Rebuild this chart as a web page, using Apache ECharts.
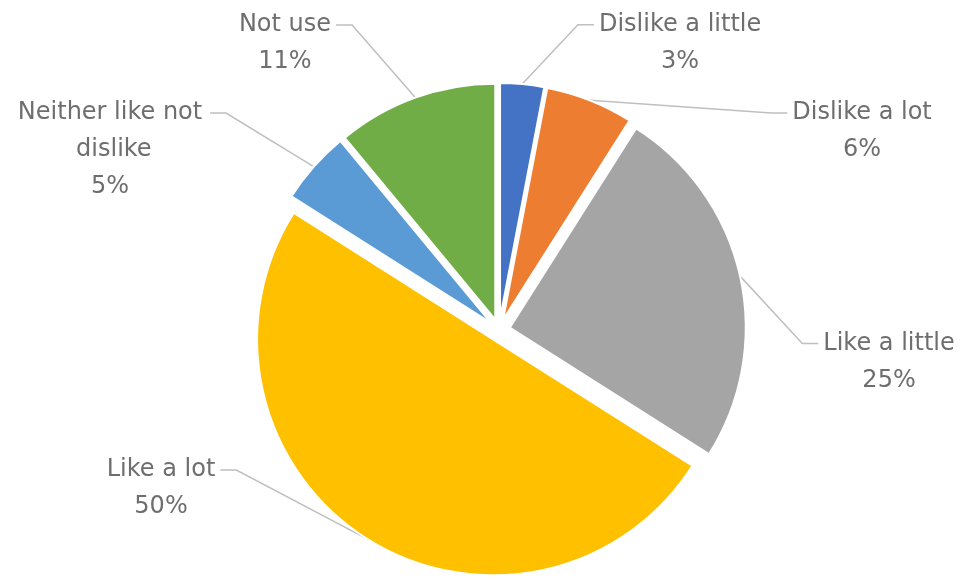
<!DOCTYPE html>
<html>
<head>
<meta charset="utf-8">
<title>Pie</title>
<script src="https://cdn.jsdelivr.net/npm/echarts@6/dist/echarts.min.js"></script>
<style>
  html, body { margin: 0; padding: 0; background: #ffffff; }
  #chart { width: 960px; height: 580px; }
</style>
</head>
<body>
<div id="chart"></div>
<script>
// Survey answers, clockwise from 12 o'clock
const categories = ['Dislike a little', 'Dislike a lot', 'Like a little', 'Like a lot', 'Neither like not dislike', 'Not use'];
const shares = [3, 6, 25, 50, 5, 11];
const colors = ['#4472C4', '#ED7D31', '#A5A5A5', '#FFC000', '#5B9BD5', '#70AD47'];

// Label anchor legs per slice (radial leg, then horizontal leg)
const legRadial = [41, -33.5, -393.7, -59.3, 25.2, 57.5];
const legSide = [149, 279.4, 528.2, 232.4, 179.8, 105.9];
const LINE_H = 37;

const chart = echarts.init(document.getElementById('chart'), null, { renderer: 'canvas' });

const data = categories.map((name, i) => ({
  name: name,
  value: shares[i],
  selected: true,
  itemStyle: { color: colors[i] },
  label: i === 4 ? { width: 190, overflow: 'break' } : {},
  labelLine: { length: legRadial[i], length2: legSide[i] }
}));

chart.setOption({
  animation: false,
  series: [{
    type: 'pie',
    center: [499, 330],
    radius: 236,
    startAngle: 90,
    clockwise: true,
    selectedMode: 'multiple',
    selectedOffset: 11,
    avoidLabelOverlap: false,
    itemStyle: { borderColor: '#ffffff', borderWidth: 2 },
    select: { itemStyle: { borderColor: '#ffffff', borderWidth: 2 } },
    emphasis: { disabled: true },
    label: {
      show: true,
      position: 'outside',
      alignTo: 'none',
      formatter: p => p.name + '\n' + p.value + '%',
      color: '#6e6e6e',
      fontFamily: 'DejaVu Sans',
      fontSize: 24,
      lineHeight: LINE_H
    },
    labelLine: {
      show: true,
      lineStyle: { color: '#bfbfbf', width: 1.5 }
    },
    // Centre the text lines and run the leader line to a short stub
    // beside the first text line
    labelLayout: p => {
      const pts = p.labelLinePoints;
      if (!pts) return { align: 'center' };
      const start = pts[0];
      const anchor = pts[2];
      const onLeft = anchor[0] < start[0];
      const cx = anchor[0] + (onLeft ? -5 : 5);
      const lines = Math.max(1, Math.round(p.labelRect.height / LINE_H));
      const firstY = anchor[1] - (lines - 1) * LINE_H / 2;
      const halfW = p.labelRect.width / 2;
      const endX = onLeft ? cx + halfW + 5 : cx - halfW - 5;
      const kneeX = onLeft ? endX + 16 : endX - 16;
      return {
        align: 'center',
        labelLinePoints: [start, [kneeX, firstY], [endX, firstY]]
      };
    },
    data: data
  }]
});
</script>
</body>
</html>
